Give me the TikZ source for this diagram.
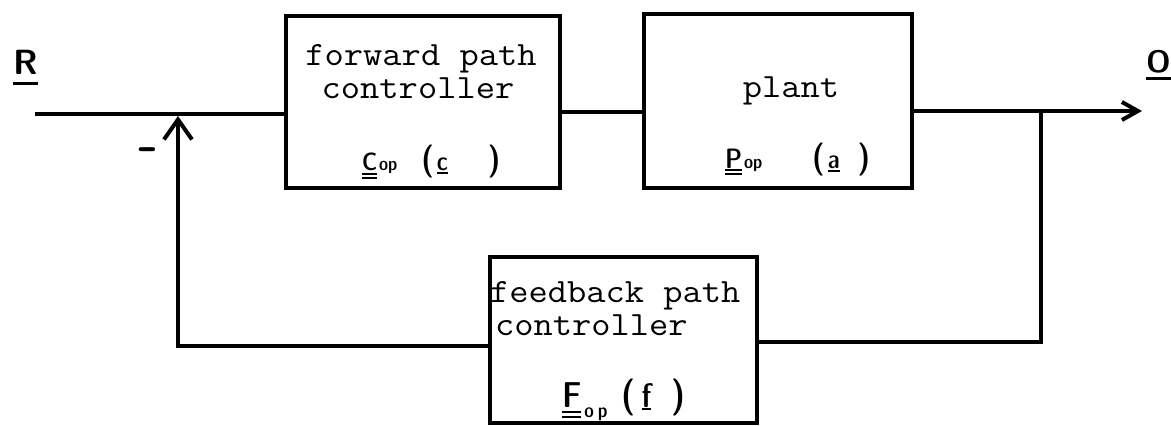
\documentclass[tikz,border=0pt]{standalone}
\usepackage{graphicx}
\usetikzlibrary{arrows.meta}
\newcommand{\hw}[1]{\fontsize{#1}{#1}\selectfont}
\newcommand{\tx}[1]{\scalebox{1.1}[1]{#1}}
% underline: #1 thickness, #2 depth, #3 text
\newcommand{\ulx}[3]{\begingroup\setbox0=\hbox{#3}\rlap{\rule[-#2]{\wd0}{#1}}\box0\endgroup}
% double underline
\newcommand{\dulx}[3]{\begingroup\setbox0=\hbox{#3}\rlap{\rule[-#1]{\wd0}{1.8pt}}\rlap{\rule[-#2]{\wd0}{1.8pt}}\box0\endgroup}
\begin{document}
\begin{tikzpicture}[x=1pt,y=-1pt,line width=4pt,line join=miter,
  blk/.style={draw,line width=4pt,inner sep=0pt,outer sep=0pt},
  tt/.style={font=\ttfamily\hw{34},inner sep=0pt,anchor=base},
  hand/.style={font=\sffamily\fontseries{sbc}\selectfont,inner sep=0pt,anchor=base west},
  sig/.style={font=\sffamily\bfseries,inner sep=0pt,anchor=base west}]
\useasboundingbox (0,0) rectangle (1171,426);

% blocks
\node[blk,minimum width=274pt,minimum height=172pt] (fwd) at (423,102) {};
\node[blk,minimum width=268pt,minimum height=174pt] (plant) at (778,101) {};
\node[blk,minimum width=267pt,minimum height=166pt] (fb) at (623.5,340) {};

% block texts
\node[tt] (fwdt1) at (421,65) {\tx{forward path}};
\node[tt] (fwdt2) at (418,98) {\tx{controller}};
\node[tt] (plantt) at (791,97) {\tx{plant}};
\node[tt,anchor=base west] (fbt1) at (488,302) {\tx{feedback path}};
\node[tt,anchor=base west] (fbt2) at (493,335) {\tx{controller}};

% handwritten operator labels
\node[hand] (clab) at (360,170) {\dulx{4.5pt}{8.5pt}{\hw{25}C}\hspace{2pt}{\hw{19}op}\hspace{24pt}{\hw{34}(}\hspace{3pt}\ulx{1.8pt}{4pt}{\hw{26}c}\hspace{40pt}{\hw{34})}};
\node[hand] (plab) at (723,168) {\dulx{3pt}{7pt}{\hw{28}P}\hspace{2pt}{\hw{19}op}\hspace{50pt}{\hw{34}(}\hspace{3pt}\ulx{1.8pt}{4pt}{\hw{26}a}\hspace{18pt}{\hw{34})}};
\node[hand] (flab) at (560,407) {\dulx{6pt}{11pt}{\hw{36}F}\hspace{3pt}\raisebox{-10pt}{\hw{20}o\hspace{4pt}p}\hspace{14pt}{\hw{38}(}\hspace{6pt}\ulx{1.8pt}{3pt}{\hw{34}f}\hspace{20pt}{\hw{38})}};

% signal labels
\node[sig] (R) at (11,74) {\hw{35}\ulx{3.5pt}{11pt}{R}};
\node[sig] (O) at (1144,72) {\hw{31}\ulx{3pt}{8pt}{O}};
\node[sig] (minus) at (136,162) {\hw{56}-};

% coordinates
\coordinate (rin) at (35,114);
\coordinate (mid) at (600,112);
\coordinate (otip) at (1142,111);
\coordinate (junc) at (1041,111);
\coordinate (fbr) at (1041,342);
\coordinate (fbl) at (178,346);
\coordinate (stip) at (178,116);

% connectors
\draw (rin) -- (rin -| fwd.west);
\draw (fwd.east |- mid) -- (plant.west |- mid);
\draw[-{Straight Barb[length=16pt,width=18pt]}] (plant.east |- otip) -- (otip);
\draw (junc) -- (fbr) -- (fbr -| fb.east);
\draw[-{Straight Barb[length=20pt,width=28pt]}] (fbl -| fb.west) -- (fbl) -- (stip);
\end{tikzpicture}
\end{document}
